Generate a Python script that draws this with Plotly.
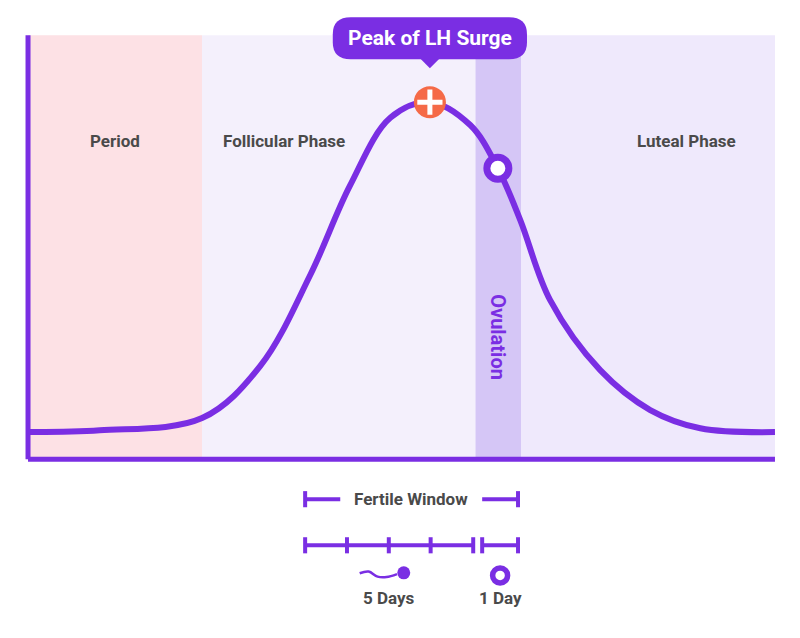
import plotly.graph_objects as go

# LH curve (x: cycle position 0-100, y: relative LH level 0-100)
curve_x = [0, 9.6, 23.3, 31.1, 37.8, 43.1, 48.5, 53.8, 59.2, 62.9, 65.9, 69.9, 76.6, 83.3, 90, 100]
curve_y = [6.4, 6.8, 9.7, 22, 43.5, 64.5, 80.5, 84.2, 78.8, 68.6, 56.4, 37.5, 21, 11.6, 7.3, 6.4]
phase_names = ["Period", "Follicular Phase", "Ovulation", "Luteal Phase"]
phase_bounds = [0, 23.3, 59.9, 66.0, 100]
phase_colors = ["#fde1e5", "#f4f0fc", "#d5c6f6", "#efe9fc"]
peak_x, peak_y = 53.8, 84.2
ovu_x, ovu_y = 62.9, 68.6
day_ticks_5 = [37.1, 42.7, 48.3, 53.9, 59.6]
day_ticks_1 = [60.8, 65.6]

P = "#7a2ee3"
G = "#4a4a4a"
fig = go.Figure()
shapes = []
for i in range(4):
    shapes.append(dict(type="rect", x0=phase_bounds[i], x1=phase_bounds[i+1], y0=0, y1=100,
                       fillcolor=phase_colors[i], line_width=0, layer="below"))
shapes.append(dict(type="line", x0=0, x1=0, y0=0, y1=100, line=dict(color=P, width=5)))
shapes.append(dict(type="line", x0=0, x1=100, y0=0, y1=0, line=dict(color=P, width=5)))

# Fertile window
fy = -9.43
fl, fr = day_ticks_5[0], day_ticks_1[-1]
shapes += [dict(type="line", x0=fl, x1=41.8, y0=fy, y1=fy, line=dict(color=P, width=4)),
           dict(type="line", x0=60.8, x1=fr, y0=fy, y1=fy, line=dict(color=P, width=4))]
for xx in (fl, fr):
    shapes.append(dict(type="line", x0=xx, x1=xx, y0=fy-1.9, y1=fy+1.9, line=dict(color=P, width=4)))
dy = -20.3
shapes.append(dict(type="line", x0=day_ticks_5[0], x1=day_ticks_5[-1], y0=dy, y1=dy, line=dict(color=P, width=4)))
shapes.append(dict(type="line", x0=day_ticks_1[0], x1=day_ticks_1[-1], y0=dy, y1=dy, line=dict(color=P, width=4)))
for xx in day_ticks_5 + day_ticks_1:
    shapes.append(dict(type="line", x0=xx, x1=xx, y0=dy-1.9, y1=dy+1.9, line=dict(color=P, width=4)))

# Callout box (rounded) with pointer
bx0, bx1, by0, by1 = 40.8, 66.8, 94.3, 104.2
rx, ry = 2.4, 4.0
path = (f"M {bx0+rx},{by0} L {bx1-rx},{by0} Q {bx1},{by0} {bx1},{by0+ry} L {bx1},{by1-ry} "
        f"Q {bx1},{by1} {bx1-rx},{by1} L {bx0+rx},{by1} Q {bx0},{by1} {bx0},{by1-ry} "
        f"L {bx0},{by0+ry} Q {bx0},{by0} {bx0+rx},{by0} Z")
shapes.append(dict(type="path", path=path, fillcolor=P, line_width=0))
shapes.append(dict(type="path", path=f"M {peak_x-1.3},{by0+0.2} L {peak_x+1.3},{by0+0.2} L {peak_x},{by0-2.1} Z",
                   fillcolor=P, line_width=0))

fig.add_trace(go.Scatter(x=curve_x, y=curve_y, mode="lines", line=dict(color=P, width=6, shape="spline", smoothing=1.0),
                         hoverinfo="skip"))
fig.add_trace(go.Scatter(x=[peak_x], y=[peak_y], mode="markers",
                         marker=dict(size=32, color="#f56a47", line=dict(width=0))))
fig.add_trace(go.Scatter(x=[peak_x], y=[peak_y], mode="markers",
                         marker=dict(size=18, symbol="cross-thin", line=dict(width=5, color="white"))))
fig.add_trace(go.Scatter(x=[ovu_x], y=[ovu_y], mode="markers",
                         marker=dict(size=22, color="white", line=dict(width=7, color=P))))
# icons
fig.add_trace(go.Scatter(x=[44.4, 45.6, 46.8, 48.0, 49.4], y=[-26.9, -26.5, -27.7, -27.8, -27.1], mode="lines",
                         line=dict(color=P, width=2.5, shape="spline")))
fig.add_trace(go.Scatter(x=[50.3], y=[-26.8], mode="markers",
                         marker=dict(size=13, color=P, symbol="circle")))
fig.add_trace(go.Scatter(x=[63.2], y=[-27.4], mode="markers",
                         marker=dict(size=15, color="white", line=dict(width=5.5, color=P))))

anns = [
    dict(x=11.6, y=75, text="<b>Period</b>", font=dict(color=G, size=17)),
    dict(x=34.3, y=75, text="<b>Follicular Phase</b>", font=dict(color=G, size=17)),
    dict(x=88.2, y=75, text="<b>Luteal Phase</b>", font=dict(color=G, size=17)),
    dict(x=62.9, y=28.8, text="<b>Ovulation</b>", textangle=90, font=dict(color=P, size=20)),
    dict(x=53.8, y=99.3, text="<b>Peak of LH Surge</b>", font=dict(color="white", size=21)),
    dict(x=51.3, y=fy, text="<b>Fertile Window</b>", font=dict(color=G, size=17)),
    dict(x=48.3, y=-32.8, text="<b>5 Days</b>", font=dict(color=G, size=17)),
    dict(x=63.2, y=-32.8, text="<b>1 Day</b>", font=dict(color=G, size=17)),
]
for a in anns:
    a.update(showarrow=False, xref="x", yref="y")
    a["font"]["family"] = "Roboto"

fig.update_layout(width=800, height=638, margin=dict(l=0, r=0, t=0, b=0),
                  paper_bgcolor="white", plot_bgcolor="white", showlegend=False,
                  shapes=shapes, annotations=anns,
                  xaxis=dict(range=[-2.68, 104.42], visible=False, fixedrange=True),
                  yaxis=dict(range=[-44.05, 106.4], visible=False, fixedrange=True))
fig.write_html("out.html")
